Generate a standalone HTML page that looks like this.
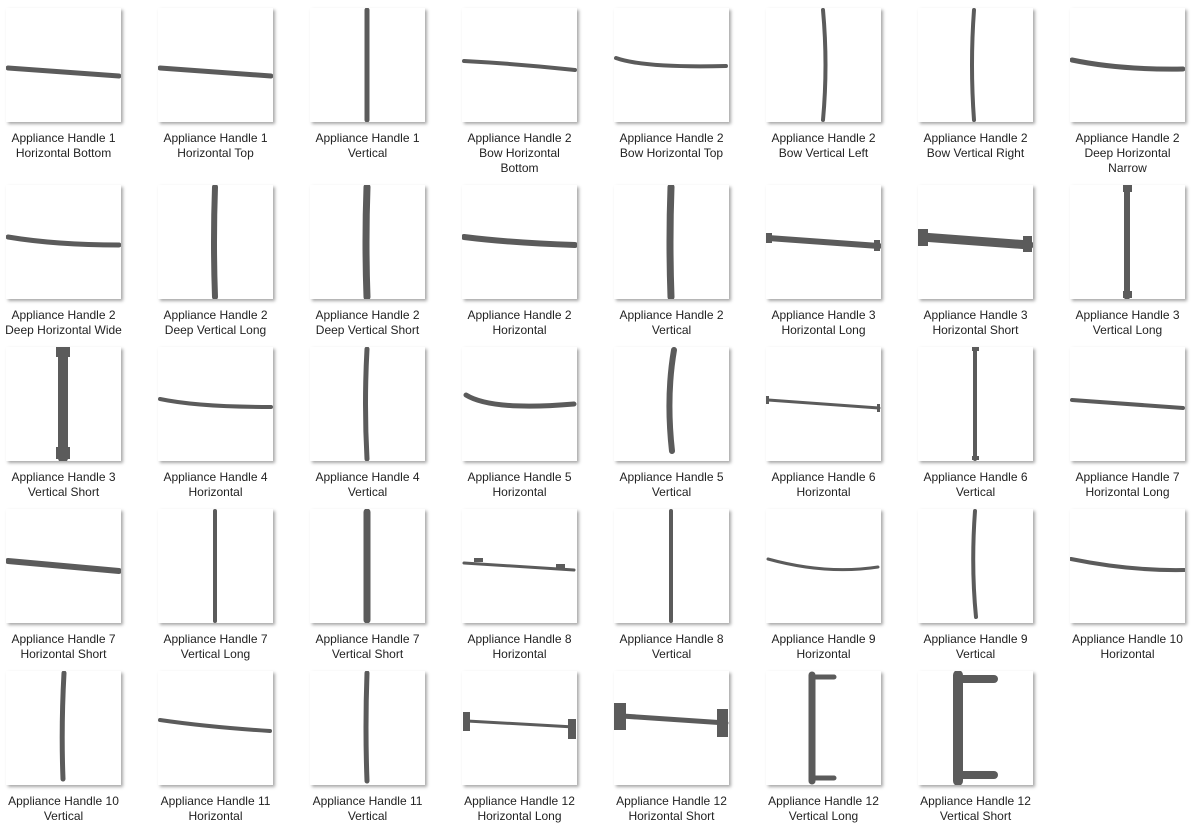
<!DOCTYPE html>
<html><head><meta charset="utf-8"><style>
body{margin:0;width:1191px;height:829px;background:#fff;position:relative;overflow:hidden;font-family:"Liberation Sans",sans-serif}
.c{position:absolute;width:145px}
.c svg{position:absolute;left:0;top:0;width:115px;height:114px;background:#fff;box-shadow:2px 2px 3px rgba(0,0,0,.35)}
.c svg *{stroke:#5b5b5b;fill:none;stroke-linecap:round}
.c svg rect{fill:#5b5b5b;stroke:none}
.c div{position:absolute;top:123px;left:-15px;width:145px;text-align:center;font-size:12px;line-height:15px;color:#222}
</style></head><body>
<div class="c" style="left:6px;top:8px"><svg><path d="M2 60 L113 68" stroke-width="5"/></svg><div>Appliance Handle 1<br>Horizontal Bottom</div></div>
<div class="c" style="left:158px;top:8px"><svg><path d="M2 60 L113 68" stroke-width="5"/></svg><div>Appliance Handle 1<br>Horizontal Top</div></div>
<div class="c" style="left:310px;top:8px"><svg><path d="M57 2 L57 112" stroke-width="5"/></svg><div>Appliance Handle 1<br>Vertical</div></div>
<div class="c" style="left:462px;top:8px"><svg><path d="M2 53 Q58 56 113 62" stroke-width="4"/></svg><div>Appliance Handle 2<br>Bow Horizontal<br>Bottom</div></div>
<div class="c" style="left:614px;top:8px"><svg><path d="M2 50 Q30 60 112 58" stroke-width="4"/></svg><div>Appliance Handle 2<br>Bow Horizontal Top</div></div>
<div class="c" style="left:766px;top:8px"><svg><path d="M57 2 Q62 57 57 112" stroke-width="4"/></svg><div>Appliance Handle 2<br>Bow Vertical Left</div></div>
<div class="c" style="left:918px;top:8px"><svg><path d="M56 2 Q52 57 56 112" stroke-width="4"/></svg><div>Appliance Handle 2<br>Bow Vertical Right</div></div>
<div class="c" style="left:1070px;top:8px"><svg><path d="M2 52 Q50 62 113 61" stroke-width="5"/></svg><div>Appliance Handle 2<br>Deep Horizontal<br>Narrow</div></div>
<div class="c" style="left:6px;top:185px"><svg><path d="M2 52 Q50 60 113 60" stroke-width="5"/></svg><div>Appliance Handle 2<br>Deep Horizontal Wide</div></div>
<div class="c" style="left:158px;top:185px"><svg><path d="M57 2 Q55 57 57 112" stroke-width="6"/></svg><div>Appliance Handle 2<br>Deep Vertical Long</div></div>
<div class="c" style="left:310px;top:185px"><svg><path d="M57 2 Q55 57 57 112" stroke-width="7"/></svg><div>Appliance Handle 2<br>Deep Vertical Short</div></div>
<div class="c" style="left:462px;top:185px"><svg><path d="M2 52 Q50 58 113 60" stroke-width="6"/></svg><div>Appliance Handle 2<br>Horizontal</div></div>
<div class="c" style="left:614px;top:185px"><svg><path d="M57 2 Q55 57 57 112" stroke-width="7"/></svg><div>Appliance Handle 2<br>Vertical</div></div>
<div class="c" style="left:766px;top:185px"><svg><path d="M2 53 L113 61" stroke-width="6"/><rect x="0" y="48" width="6" height="10"/><rect x="108" y="55" width="6" height="11"/></svg><div>Appliance Handle 3<br>Horizontal Long</div></div>
<div class="c" style="left:918px;top:185px"><svg><path d="M4 52 L111 60" stroke-width="9"/><rect x="0" y="44" width="10" height="17"/><rect x="105" y="51" width="9" height="16"/></svg><div>Appliance Handle 3<br>Horizontal Short</div></div>
<div class="c" style="left:1070px;top:185px"><svg><path d="M57 2 L57 112" stroke-width="6"/><rect x="53" y="0" width="9" height="7"/><rect x="53" y="106" width="9" height="7"/></svg><div>Appliance Handle 3<br>Vertical Long</div></div>
<div class="c" style="left:6px;top:347px"><svg><path d="M57 3 L57 111" stroke-width="10" stroke-linecap="butt"/><rect x="50" y="0" width="14" height="10"/><rect x="50" y="100" width="14" height="12"/></svg><div>Appliance Handle 3<br>Vertical Short</div></div>
<div class="c" style="left:158px;top:347px"><svg><path d="M2 52 Q40 60 113 60" stroke-width="4"/></svg><div>Appliance Handle 4<br>Horizontal</div></div>
<div class="c" style="left:310px;top:347px"><svg><path d="M57 2 Q54 57 57 112" stroke-width="5"/></svg><div>Appliance Handle 4<br>Vertical</div></div>
<div class="c" style="left:462px;top:347px"><svg><path d="M4 48 Q30 64 112 57" stroke-width="5"/></svg><div>Appliance Handle 5<br>Horizontal</div></div>
<div class="c" style="left:614px;top:347px"><svg><path d="M60 3 Q52 50 58 104" stroke-width="6"/></svg><div>Appliance Handle 5<br>Vertical</div></div>
<div class="c" style="left:766px;top:347px"><svg><path d="M2 53 L113 61" stroke-width="3"/><rect x="0" y="49" width="3" height="8"/><rect x="111" y="57" width="3" height="8"/></svg><div>Appliance Handle 6<br>Horizontal</div></div>
<div class="c" style="left:918px;top:347px"><svg><path d="M57 2 L57 112" stroke-width="4"/><rect x="54" y="0" width="7" height="4"/><rect x="54" y="109" width="7" height="4"/></svg><div>Appliance Handle 6<br>Vertical</div></div>
<div class="c" style="left:1070px;top:347px"><svg><path d="M2 53 L113 61" stroke-width="4"/></svg><div>Appliance Handle 7<br>Horizontal Long</div></div>
<div class="c" style="left:6px;top:509px"><svg><path d="M2 52 L113 62" stroke-width="6"/></svg><div>Appliance Handle 7<br>Horizontal Short</div></div>
<div class="c" style="left:158px;top:509px"><svg><path d="M57 2 L57 112" stroke-width="4"/></svg><div>Appliance Handle 7<br>Vertical Long</div></div>
<div class="c" style="left:310px;top:509px"><svg><path d="M57 3 L57 111" stroke-width="7"/></svg><div>Appliance Handle 7<br>Vertical Short</div></div>
<div class="c" style="left:462px;top:509px"><svg><path d="M2 54 L112 61" stroke-width="3"/><rect x="12" y="49" width="9" height="4"/><rect x="94" y="55" width="9" height="4"/></svg><div>Appliance Handle 8<br>Horizontal</div></div>
<div class="c" style="left:614px;top:509px"><svg><path d="M57 2 L57 112" stroke-width="4"/></svg><div>Appliance Handle 8<br>Vertical</div></div>
<div class="c" style="left:766px;top:509px"><svg><path d="M2 50 Q60 66 112 58" stroke-width="3"/></svg><div>Appliance Handle 9<br>Horizontal</div></div>
<div class="c" style="left:918px;top:509px"><svg><path d="M57 2 Q53 57 58 108" stroke-width="4"/></svg><div>Appliance Handle 9<br>Vertical</div></div>
<div class="c" style="left:1070px;top:509px"><svg><path d="M1 50 Q60 62 114 61" stroke-width="4"/></svg><div>Appliance Handle 10<br>Horizontal</div></div>
<div class="c" style="left:6px;top:671px"><svg><path d="M58 2 Q55 57 57 108" stroke-width="5"/></svg><div>Appliance Handle 10<br>Vertical</div></div>
<div class="c" style="left:158px;top:671px"><svg><path d="M2 49 Q50 56 112 60" stroke-width="4"/></svg><div>Appliance Handle 11<br>Horizontal</div></div>
<div class="c" style="left:310px;top:671px"><svg><path d="M57 2 Q55 57 57 110" stroke-width="5"/></svg><div>Appliance Handle 11<br>Vertical</div></div>
<div class="c" style="left:462px;top:671px"><svg><path d="M5 50 L112 56" stroke-width="3"/><rect x="1" y="41" width="7" height="19"/><rect x="106" y="48" width="8" height="20"/></svg><div>Appliance Handle 12<br>Horizontal Long</div></div>
<div class="c" style="left:614px;top:671px"><svg><path d="M8 45 L112 52" stroke-width="5"/><rect x="0" y="32" width="12" height="27"/><rect x="103" y="38" width="11" height="28"/></svg><div>Appliance Handle 12<br>Horizontal Short</div></div>
<div class="c" style="left:766px;top:671px"><svg><path d="M46 4 L46 110" stroke-width="7" stroke-linecap="butt"/><path d="M46 6 L68 6" stroke-width="5"/><path d="M46 107 L68 107" stroke-width="5"/></svg><div>Appliance Handle 12<br>Vertical Long</div></div>
<div class="c" style="left:918px;top:671px"><svg><path d="M40 4 L40 110" stroke-width="10" stroke-linecap="butt"/><path d="M40 8 L76 8" stroke-width="8"/><path d="M40 104 L76 104" stroke-width="8"/></svg><div>Appliance Handle 12<br>Vertical Short</div></div>
</body></html>
